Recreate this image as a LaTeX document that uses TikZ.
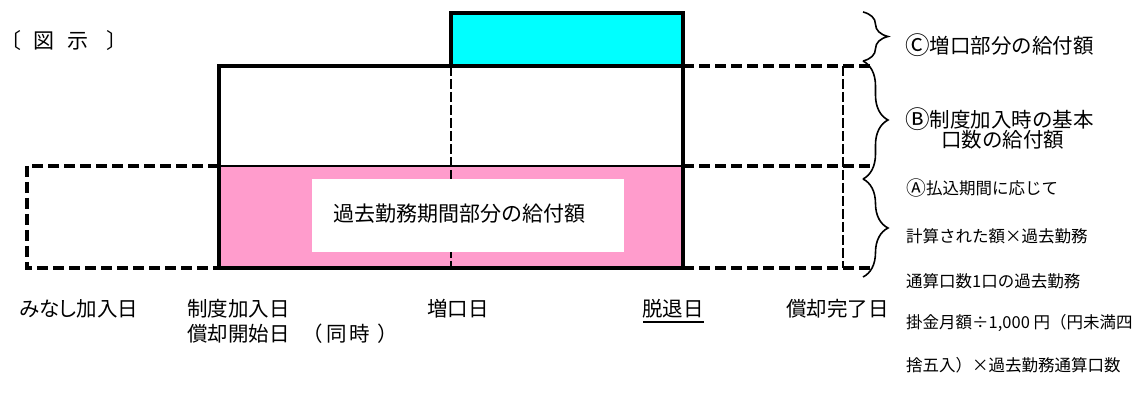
\documentclass[tikz,border=0pt]{standalone}
\usepackage{fontspec}
\setmainfont{Noto Sans CJK JP}
\newfontfamily\pjp[RawFeature=+palt]{Noto Sans CJK JP}
\usetikzlibrary{decorations.pathreplacing}
\definecolor{cyanfill}{RGB}{0,255,255}
\definecolor{pinkfill}{RGB}{255,156,204}
\newcommand{\circbig}[1]{\raisebox{-1.2pt}{\scalebox{1.2}{#1}}}
\begin{document}
\begin{tikzpicture}[x=1pt,y=-1pt,
 thickline/.style={line width=3.5pt, line join=miter},
 thickdash/.style={line width=3.5pt, dash pattern=on 11pt off 5pt},
 thindash/.style={line width=1.8pt, dash pattern=on 10pt off 3pt},
 bracestyle/.style={decorate, decoration={brace, amplitude=25pt}, line width=1.6pt},
 lbl/.style={inner sep=0pt, anchor=west, font=\fontsize{20.5}{24}\selectfont},
 rlbl/.style={inner sep=0pt, anchor=west, font=\fontsize{20.5}{24}\selectfont},
 albl/.style={inner sep=0pt, anchor=west, font=\fontsize{16.5}{20}\selectfont},
]
\useasboundingbox (0,0) rectangle (1144,395);
\fill[white] (0,0) rectangle (1144,395);
% fills
\fill[pinkfill] (219,166) rectangle (683,268);
\fill[cyanfill] (451,13) rectangle (683,66);
\draw[thindash] (451,66) -- (451,268);
\draw[thindash] (843,66) -- (843,268);
\fill[white] (312,179) rectangle (624,252);
% dashed outlines
\draw[thickdash] (219,166) -- (27,166) -- (27,268) -- (219,268);
\draw[thickdash] (683,66) -- (872,66);
\draw[thickdash] (683,166) -- (872,166);
\draw[thickdash] (683,268) -- (872,268);
% solid outlines
\draw[line width=1.2pt] (219,166) -- (683,166);
\draw[thickline] (683,268) -- (219,268) -- (219,66) -- (683,66);
\draw[thickline] (451,66) -- (451,13) -- (683,13) -- (683,268);
% braces
\draw[bracestyle] (863,12) -- (863,61);
\draw[bracestyle] (863,61) -- (863,179);
\draw[bracestyle] (863,179) -- (863,277);
% labels
\node[inner sep=0pt, anchor=west, font=\fontsize{21}{24}\selectfont] (title) at (0,41) {〔\hspace{12pt}図\hspace{13pt}示\hspace{18pt}〕};
\node[inner sep=0pt, font=\fontsize{21}{24}\selectfont] (past) at (459.5,214) {過去勤務期間部分の給付額};
\node[lbl] (minashi) at (19,309) {\pjp みなし加入日};
\node[lbl] (seido) at (187,309) {制度加入日};
\node[lbl] (shokyaku) at (187,334) {償却開始日};
\node[lbl] (doji) at (302,334) {（\hspace{4pt}同\hspace{2pt}時\hspace{8pt}）};
\node[lbl] (zouguchi) at (427,309) {増口日};
\node[lbl] (dattai) at (642,309) {脱退日};
\draw[line width=2pt] ([xshift=1pt,yshift=-3pt]dattai.south west) -- ([yshift=-3pt]dattai.south east);
\node[lbl] (kanryo) at (786,309) {償却完了日};
\node[rlbl] (cText) at (905,45) {\circbig{Ⓒ}増口部分の給付額};
\node[rlbl] (bText1) at (905,119) {\circbig{Ⓑ}制度加入時の基本};
\node[rlbl] (bText2) at (941,140) {口数の給付額};
\node[albl] (aText1) at (906,188) {\circbig{Ⓐ}払込期間に応じて};
\node[albl] (aText2) at (906,236) {計算された額×過去勤務};
\node[albl] (aText3) at (906,281) {通算口数1口の過去勤務};
\node[albl] (aText4) at (906,323) {掛金月額÷1,000 円（円未満四};
\node[albl] (aText5) at (906,365) {捨五入）×過去勤務通算口数};
\end{tikzpicture}
\end{document}
